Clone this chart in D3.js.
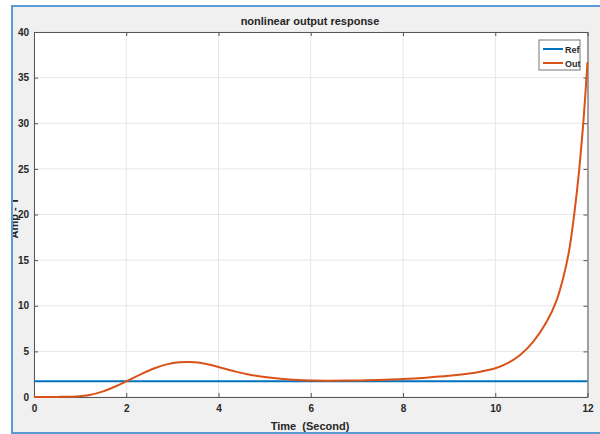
<!DOCTYPE html>
<html><head><meta charset="utf-8">
<script src="https://cdn.jsdelivr.net/npm/d3@7"></script>
<style>html,body{margin:0;padding:0;background:#fff}svg{display:block}</style>
</head><body>
<script>
const timeVals = [0,0.5,0.9,1.2,1.5,1.75,2,2.3,2.6,2.9,3.15,3.35,3.6,3.96,4.3,4.6,5.0,5.4,5.84,6.3,6.8,7.2,7.6,8,8.5,9,9.4,9.7,10,10.3,10.54,10.83,11.12,11.33,11.48,11.6,11.77,11.9,12];
const outVals  = [0,0.01,0.06,0.22,0.62,1.12,1.72,2.45,3.12,3.6,3.8,3.84,3.76,3.34,2.88,2.52,2.18,1.96,1.83,1.79,1.8,1.83,1.89,1.97,2.12,2.32,2.55,2.8,3.15,3.8,4.6,6.1,8.3,10.6,13.2,16.0,22.5,29.5,36.7];
const refVal = 1.72;
const xTicks = [0,2,4,6,8,10,12];
const yTicks = [0,5,10,15,20,25,30,35,40];
const seriesNames = ["Ref","Out"];
const seriesColors = ["#0072BD","#D95319"];

const W=600,H=434;
const svg=d3.select("body").append("svg").attr("width",W).attr("height",H);
svg.append("rect").attr("x",12).attr("y",6).attr("width",W-12).attr("height",426).attr("fill","#f0f0f0");

const L=34,R=587.5,T=32,B=397;
const x=d3.scaleLinear().domain([0,12]).range([L,R]);
const y=d3.scaleLinear().domain([0,40]).range([B,T]);

svg.append("rect").attr("x",L).attr("y",T).attr("width",R-L).attr("height",B-T).attr("fill","#fff");
const g=svg.append("g");
g.selectAll(".gx").data(xTicks).enter().append("line")
 .attr("x1",d=>x(d)).attr("x2",d=>x(d)).attr("y1",T).attr("y2",B).attr("stroke","#e6e6e6").attr("stroke-width",1);
g.selectAll(".gy").data(yTicks).enter().append("line")
 .attr("y1",d=>y(d)).attr("y2",d=>y(d)).attr("x1",L).attr("x2",R).attr("stroke","#e6e6e6").attr("stroke-width",1);

const font="'Liberation Sans', Arial, sans-serif";
const axB=svg.append("g").attr("transform",`translate(0,${B})`).call(d3.axisBottom(x).tickValues(xTicks).tickSizeInner(-4).tickSizeOuter(0).tickPadding(8));
const axL=svg.append("g").attr("transform",`translate(${L},0)`).call(d3.axisLeft(y).tickValues(yTicks).tickSizeInner(-4).tickSizeOuter(0).tickPadding(5));
const axT=svg.append("g").attr("transform",`translate(0,${T})`).call(d3.axisTop(x).tickValues(xTicks).tickSizeInner(-4).tickSizeOuter(0).tickFormat(""));
const axR=svg.append("g").attr("transform",`translate(${R},0)`).call(d3.axisRight(y).tickValues(yTicks).tickSizeInner(-4).tickSizeOuter(0).tickFormat(""));
[axB,axL,axT,axR].forEach(a=>{
  a.select(".domain").attr("stroke","#555");
  a.selectAll(".tick line").attr("stroke","#555");
  a.selectAll("text").attr("font-family",font).attr("font-size",10).attr("font-weight","bold").attr("fill","#262626");
});

const line=d3.line().x(d=>x(d[0])).y(d=>y(d[1])).curve(d3.curveCatmullRom.alpha(0.5));
const refData=[[0,refVal],[12,refVal]];
const outData=timeVals.map((t,i)=>[t,outVals[i]]);
svg.append("path").datum(refData).attr("d",line).attr("fill","none").attr("stroke",seriesColors[0]).attr("stroke-width",2);
svg.append("path").datum(outData).attr("d",line).attr("fill","none").attr("stroke",seriesColors[1]).attr("stroke-width",2);

const lg=svg.append("g");
lg.append("rect").attr("x",539).attr("y",40).attr("width",41).attr("height",30).attr("fill","#fff").attr("stroke","#777").attr("stroke-width",1);
seriesNames.forEach((n,i)=>{
  const yy=49+i*14;
  lg.append("line").attr("x1",543).attr("x2",563).attr("y1",yy).attr("y2",yy).attr("stroke",seriesColors[i]).attr("stroke-width",2);
  lg.append("text").attr("x",565).attr("y",yy+3.5).text(n).attr("font-family",font).attr("font-size",9).attr("font-weight","bold").attr("fill","#262626");
});

svg.append("text").attr("x",310).attr("y",25).attr("text-anchor","middle").text("nonlinear output response")
 .attr("font-family",font).attr("font-size",11).attr("font-weight","bold").attr("fill","#262626");
svg.append("text").attr("x",310).attr("y",430).attr("text-anchor","middle").text("Time  (Second)").attr("xml:space","preserve")
 .attr("font-family",font).attr("font-size",11).attr("font-weight","bold").attr("fill","#262626");
svg.append("text").attr("transform","translate(18,218) rotate(-90)").attr("text-anchor","middle").text("Amp - T")
 .attr("font-family",font).attr("font-size",11).attr("font-weight","bold").attr("fill","#262626");

svg.append("rect").attr("x",0).attr("y",0).attr("width",11).attr("height",H).attr("fill","#fff");
svg.append("line").attr("x1",12).attr("x2",12).attr("y1",5).attr("y2",433).attr("stroke","#5b9bd5").attr("stroke-width",2);
svg.append("line").attr("x1",11).attr("x2",W).attr("y1",6).attr("y2",6).attr("stroke","#5b9bd5").attr("stroke-width",2);
svg.append("line").attr("x1",11).attr("x2",W).attr("y1",433).attr("y2",433).attr("stroke","#5b9bd5").attr("stroke-width",2);
</script>
</body></html>
